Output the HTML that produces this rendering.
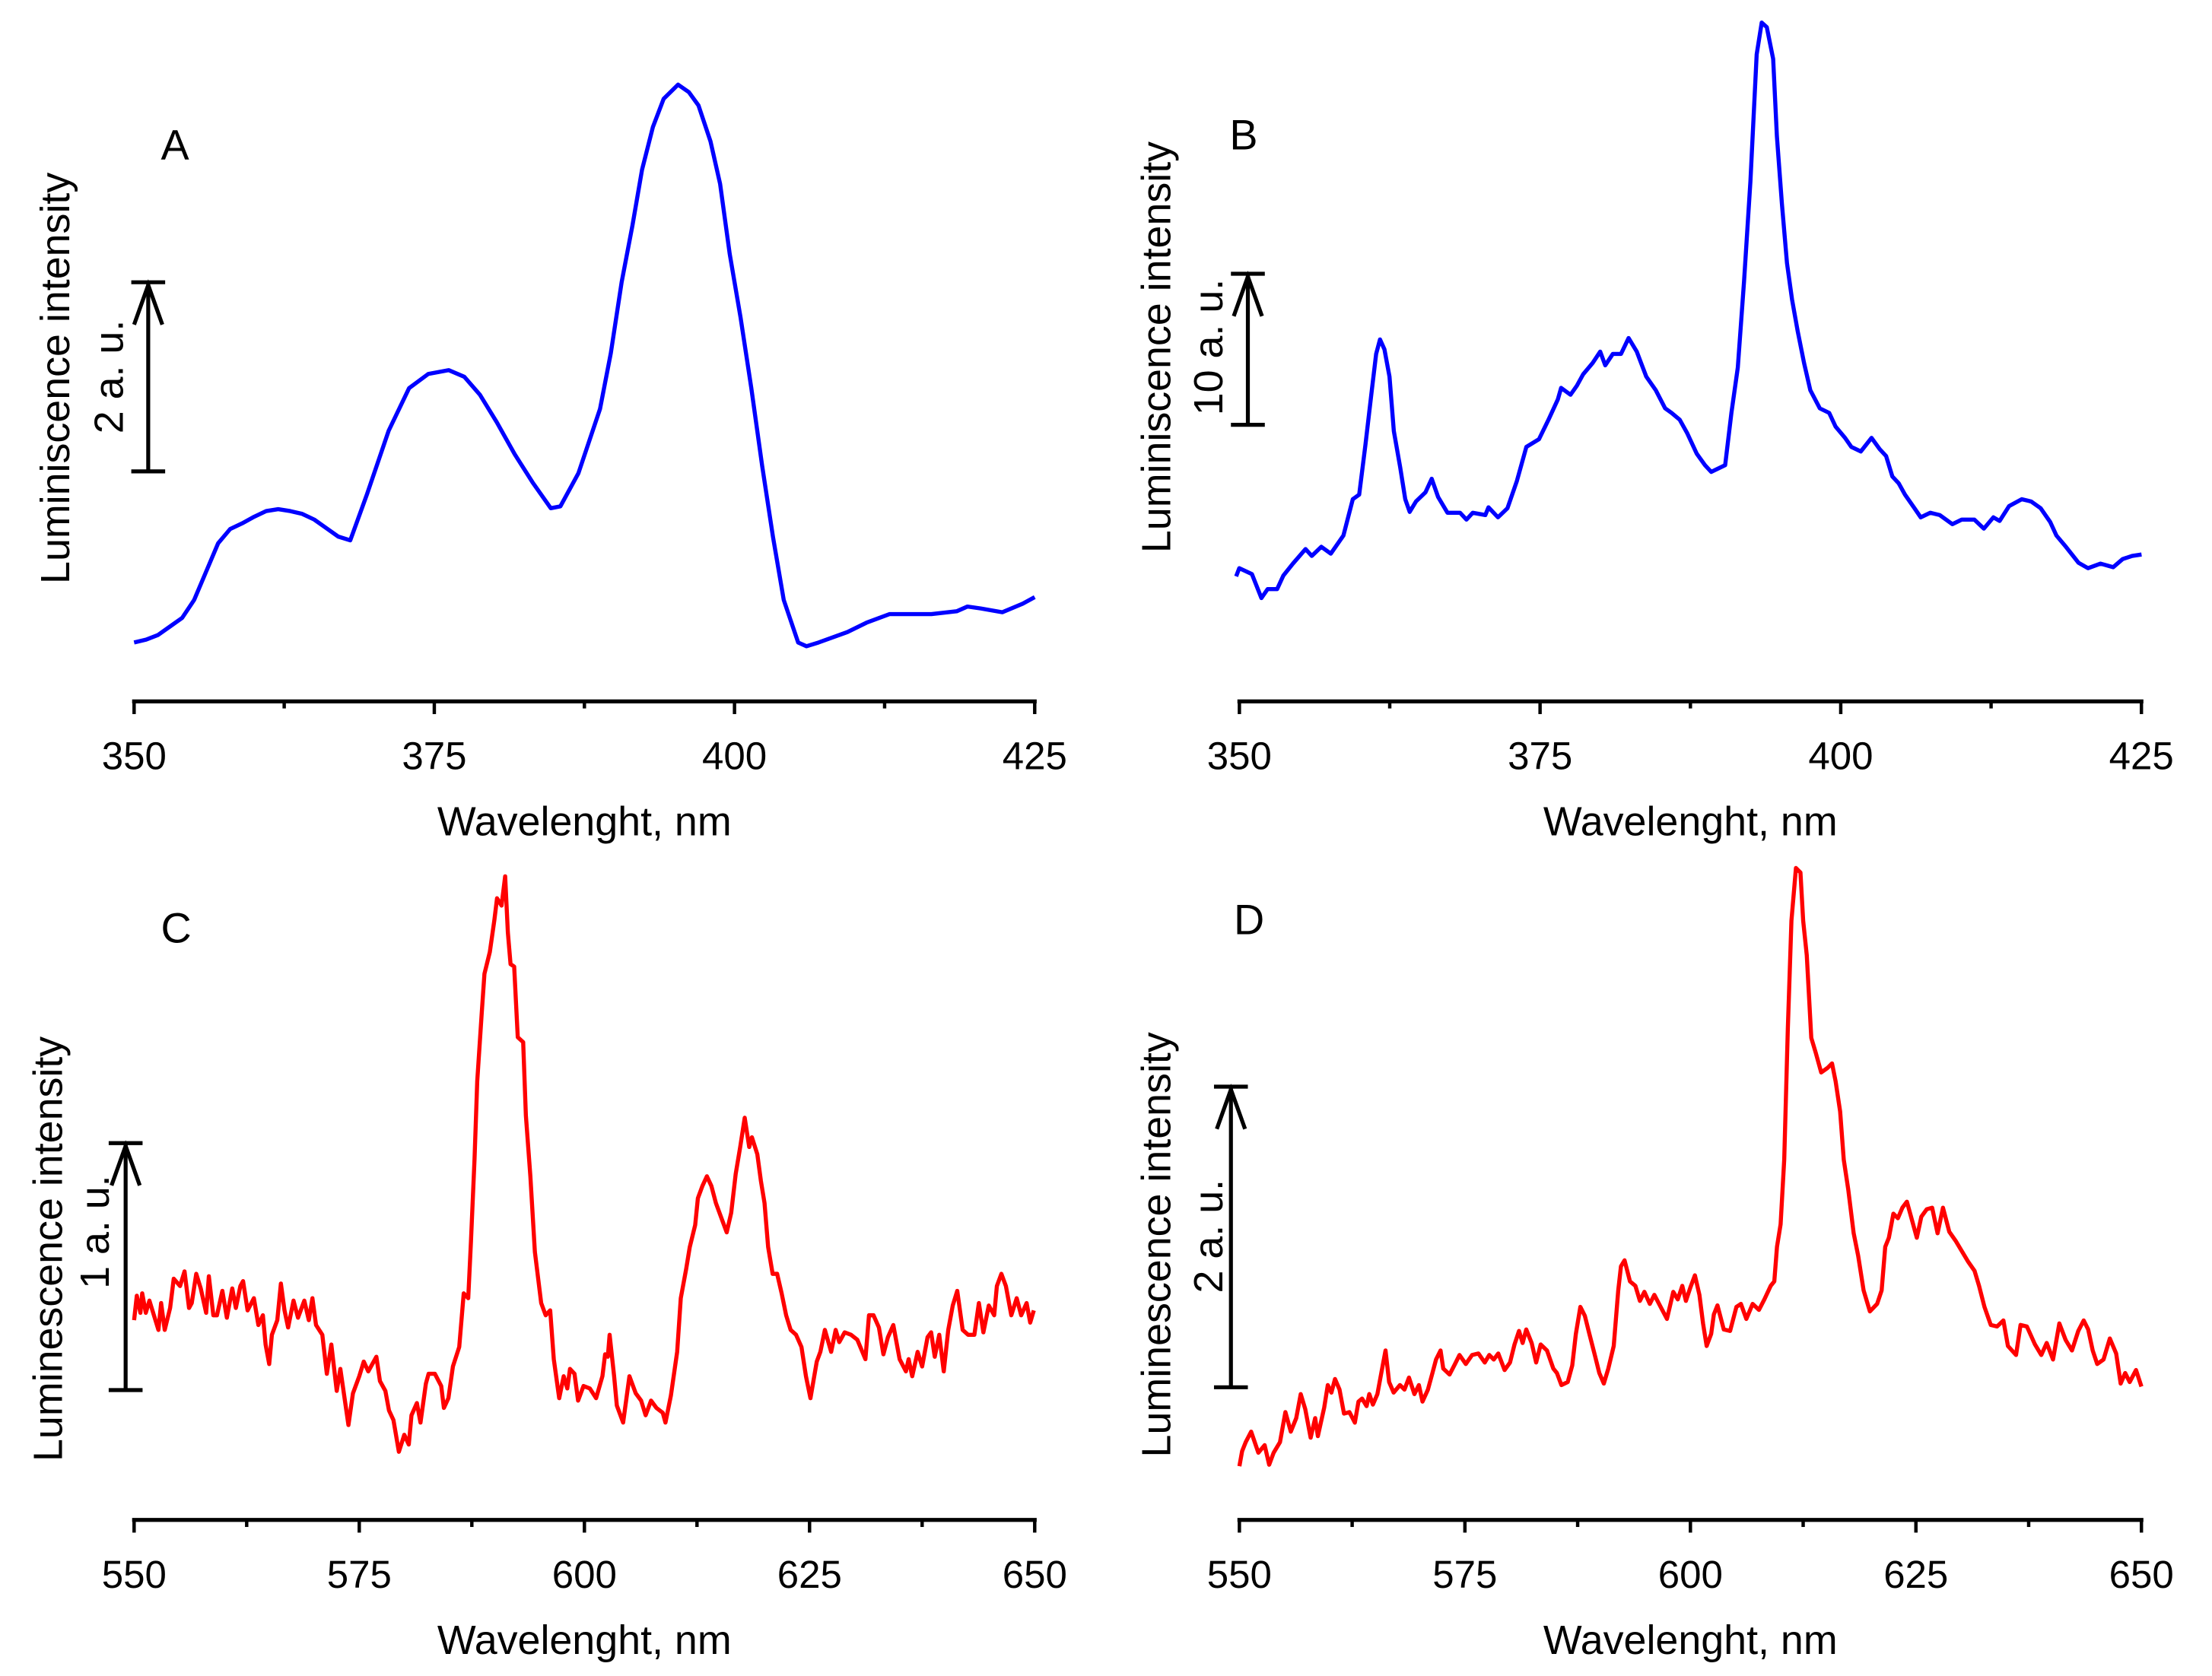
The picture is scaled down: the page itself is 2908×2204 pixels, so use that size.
<!DOCTYPE html>
<html><head><meta charset="utf-8"><style>
html,body{margin:0;padding:0;background:#fff;}
svg{display:block;}
text{font-family:"Liberation Sans",sans-serif;fill:#000;}
</style></head><body>
<svg id="fig" width="2908" height="2204" viewBox="0 0 1567 1187.6" preserveAspectRatio="none" xmlns="http://www.w3.org/2000/svg"></svg>
<script>
// Panel A
const aWave=[350,351,352,353,354,355,356,357,358,359,360,361,362,363,364,365,366,367,368,368.2,369.4,371.2,372.9,374.5,376.2,377.5,378.8,380.2,381.7,383.2,384.7,385.5,387,388.8,389.7,390.6,391.5,392.3,393.2,394.1,395.3,396.2,397,398,398.8,399.6,400.5,401.4,402.3,403.2,404.1,405.3,406,407,409.4,411,412.9,416.4,418.5,419.4,420.5,422.3,424,425];
const aInt=[0.22,0.25,0.30,0.39,0.48,0.67,0.97,1.27,1.42,1.48,1.55,1.61,1.63,1.61,1.58,1.52,1.43,1.34,1.30,1.37,1.79,2.46,2.91,3.06,3.10,3.03,2.84,2.55,2.21,1.91,1.64,1.66,2.01,2.69,3.28,4.03,4.63,5.22,5.67,5.97,6.12,6.04,5.90,5.52,5.07,4.33,3.66,2.91,2.09,1.34,0.67,0.22,0.18,0.22,0.33,0.43,0.52,0.52,0.55,0.60,0.58,0.54,0.63,0.70];
// Panel B
const bWave=[349.73,349.99,351.04,351.83,352.35,353.14,353.66,354.45,355.50,356.02,356.81,357.60,358.65,359.43,359.96,360.48,361.01,361.37,361.69,362.06,362.48,362.84,363.37,363.79,364.16,364.68,365.47,365.99,366.52,367.30,368.35,368.88,369.40,370.45,370.71,371.50,372.29,373.07,373.86,374.91,375.70,376.48,376.75,377.53,378.06,378.58,379.37,380.00,380.42,381.05,381.73,382.36,383.04,383.83,384.62,385.40,385.93,386.61,387.24,388.03,388.71,389.23,390.39,390.91,391.44,391.96,392.49,393.01,393.43,393.85,394.38,394.69,395.11,395.53,395.95,396.42,396.95,397.47,398.26,399.04,399.57,400.36,400.88,401.67,402.56,403.24,403.77,404.29,404.82,405.34,406.13,406.65,407.44,408.23,409.28,410.06,411.11,411.90,412.69,413.21,414.00,415.05,415.83,416.62,417.41,417.93,418.72,419.77,420.56,421.60,422.65,423.44,424.23,425.01];
const bInt=[5.43,6.18,5.64,3.43,4.26,4.26,5.51,6.60,7.94,7.31,8.15,7.52,9.19,12.53,12.95,17.54,22.56,25.90,27.23,26.32,23.81,18.80,15.46,12.53,11.36,12.32,13.16,14.41,12.74,11.28,11.28,10.65,11.28,11.07,11.78,10.86,11.70,14.20,17.34,18.05,19.84,21.72,22.77,22.14,22.97,24.02,25.06,26.11,24.85,25.90,25.90,27.36,26.11,23.81,22.56,20.89,20.47,19.84,18.59,16.71,15.66,15.04,15.66,20.47,24.64,32.58,41.77,53.47,56.39,55.97,53.05,45.95,39.68,34.25,30.91,27.99,25.06,22.56,20.89,20.47,19.21,18.17,17.34,16.92,18.17,17.13,16.50,14.62,13.99,12.95,11.70,10.86,11.28,11.07,10.23,10.65,10.65,9.82,10.86,10.53,11.90,12.53,12.32,11.70,10.44,9.19,8.15,6.68,6.18,6.60,6.27,7.02,7.31,7.44];
// Panel C
const cWave=[550.0,550.3,550.7,550.9,551.3,551.7,552.2,552.7,553.0,553.4,554.0,554.4,555.1,555.6,556.1,556.4,556.9,557.4,558.0,558.3,558.8,559.2,559.8,560.3,560.9,561.3,561.8,562.1,562.6,563.3,563.8,564.3,564.6,565.0,565.3,565.9,566.3,566.7,567.1,567.7,568.2,568.9,569.4,569.8,570.2,570.9,571.4,571.9,572.5,572.9,573.8,574.3,575.0,575.5,576.0,576.9,577.3,577.9,578.3,578.8,579.4,580.0,580.5,580.8,581.4,581.8,582.4,582.7,583.4,584.1,584.4,584.9,585.4,586.1,586.6,587.1,587.4,587.8,588.1,588.6,588.9,589.5,590.0,590.3,590.8,591.2,591.5,591.8,592.2,592.6,593.2,593.5,594.0,594.5,595.2,595.7,596.2,596.6,597.2,597.7,598.1,598.4,598.9,599.3,599.9,600.6,601.3,602.0,602.3,602.6,602.8,603.3,603.6,604.3,605.0,605.7,606.3,606.8,607.4,608.0,608.7,609.0,609.6,610.3,610.7,611.3,611.7,612.3,612.6,613.1,613.6,614.1,614.6,615.1,615.8,616.3,616.8,617.3,617.8,618.3,618.6,619.2,619.6,620.0,620.4,620.9,621.4,621.9,622.4,622.9,623.5,624.1,624.6,625.1,625.8,626.2,626.7,627.4,627.9,628.3,628.9,629.6,630.3,631.2,631.6,632.1,632.7,633.2,633.7,634.3,635.0,635.7,636.0,636.4,637.0,637.5,638.1,638.5,638.9,639.4,639.9,640.4,640.9,641.4,642.0,642.6,643.3,643.8,644.3,644.9,645.5,645.8,646.3,646.8,647.4,648.0,648.5,649.1,649.5,649.9];
const cInt=[0.59,0.69,0.62,0.70,0.62,0.67,0.61,0.55,0.66,0.55,0.64,0.76,0.73,0.79,0.64,0.66,0.78,0.72,0.62,0.77,0.61,0.61,0.71,0.60,0.72,0.64,0.73,0.75,0.63,0.68,0.57,0.61,0.49,0.41,0.53,0.59,0.74,0.63,0.56,0.67,0.60,0.67,0.59,0.68,0.57,0.53,0.37,0.49,0.30,0.39,0.16,0.29,0.36,0.42,0.38,0.44,0.34,0.30,0.22,0.18,0.05,0.12,0.08,0.20,0.25,0.17,0.33,0.37,0.37,0.32,0.23,0.27,0.40,0.48,0.70,0.68,0.91,1.25,1.57,1.85,2.01,2.10,2.23,2.32,2.29,2.41,2.18,2.05,2.04,1.75,1.73,1.43,1.18,0.87,0.66,0.61,0.63,0.43,0.27,0.36,0.31,0.39,0.37,0.26,0.32,0.31,0.27,0.36,0.45,0.44,0.53,0.36,0.24,0.17,0.36,0.29,0.26,0.20,0.26,0.23,0.21,0.17,0.28,0.46,0.68,0.80,0.89,0.98,1.09,1.14,1.18,1.14,1.07,1.02,0.95,1.03,1.19,1.30,1.42,1.30,1.34,1.27,1.16,1.07,0.89,0.78,0.78,0.70,0.61,0.55,0.53,0.48,0.36,0.27,0.42,0.46,0.55,0.46,0.55,0.50,0.54,0.53,0.51,0.43,0.61,0.61,0.56,0.45,0.52,0.57,0.43,0.38,0.43,0.36,0.46,0.40,0.52,0.54,0.44,0.53,0.38,0.55,0.65,0.71,0.55,0.53,0.53,0.66,0.54,0.65,0.61,0.73,0.78,0.73,0.61,0.68,0.61,0.66,0.58,0.63];
// Panel D
const dWave=[550.0,550.3,550.7,551.3,551.7,552.1,552.8,553.3,553.8,554.5,555.1,555.7,556.3,556.8,557.3,557.9,558.4,558.7,559.4,559.8,560.2,560.6,561.1,561.6,562.2,562.8,563.2,563.6,564.1,564.4,564.8,565.3,565.7,566.2,566.6,567.1,567.8,568.3,568.8,569.4,569.9,570.3,570.9,571.4,571.8,572.3,572.6,573.3,573.9,574.4,575.1,575.8,576.5,577.2,577.7,578.2,578.7,579.4,580.0,580.5,581.0,581.4,581.8,582.4,582.9,583.4,584.1,584.8,585.2,585.7,586.4,586.9,587.3,587.8,588.3,588.8,589.4,589.9,590.4,590.9,591.5,592.0,592.3,592.7,593.3,593.9,594.4,594.9,595.5,596.0,596.7,597.4,598.1,598.6,599.1,599.5,600.0,600.5,601.0,601.4,601.8,602.3,602.6,603.0,603.7,604.4,605.1,605.6,606.2,606.9,607.6,608.2,608.9,609.3,609.6,610.0,610.4,610.8,611.2,611.7,612.2,612.5,612.9,613.4,613.9,614.5,615.2,615.7,616.1,616.6,617.0,617.5,618.1,618.6,619.2,619.9,620.7,621.2,621.6,622.0,622.5,623.0,623.5,624.0,624.6,625.1,625.6,626.2,626.8,627.4,628.0,628.7,629.4,630.1,630.8,631.5,632.0,632.6,633.3,634.0,634.7,635.2,636.1,636.6,637.3,638.2,638.9,639.5,640.2,640.9,641.6,642.3,643.0,643.6,644.1,644.6,645.1,645.8,646.5,647.2,647.7,648.2,648.7,649.4,650.0];
const dInt=[0.13,0.23,0.29,0.36,0.29,0.22,0.27,0.14,0.22,0.29,0.49,0.36,0.45,0.61,0.51,0.32,0.45,0.33,0.52,0.67,0.62,0.71,0.64,0.48,0.49,0.42,0.56,0.58,0.53,0.61,0.54,0.61,0.74,0.90,0.69,0.62,0.67,0.64,0.72,0.61,0.67,0.56,0.64,0.75,0.84,0.90,0.78,0.74,0.81,0.87,0.81,0.87,0.88,0.82,0.87,0.84,0.88,0.77,0.82,0.94,1.03,0.95,1.04,0.95,0.82,0.94,0.90,0.78,0.75,0.67,0.69,0.80,1.01,1.19,1.13,1.01,0.87,0.75,0.68,0.78,0.93,1.30,1.46,1.50,1.36,1.33,1.23,1.29,1.21,1.27,1.19,1.11,1.29,1.24,1.33,1.23,1.32,1.40,1.27,1.08,0.93,1.01,1.14,1.20,1.04,1.03,1.19,1.21,1.11,1.21,1.17,1.24,1.33,1.36,1.59,1.74,2.17,3.04,3.76,4.11,4.08,3.76,3.53,2.98,2.88,2.75,2.78,2.81,2.69,2.49,2.17,1.97,1.68,1.53,1.30,1.16,1.21,1.30,1.59,1.65,1.81,1.78,1.85,1.89,1.76,1.65,1.79,1.84,1.85,1.68,1.85,1.69,1.63,1.56,1.49,1.43,1.33,1.19,1.07,1.06,1.10,0.93,0.87,1.07,1.06,0.94,0.87,0.95,0.84,1.08,0.97,0.90,1.03,1.10,1.04,0.90,0.81,0.84,0.98,0.88,0.68,0.75,0.69,0.77,0.66];
const xTicksA=["350","375","400","425"];
const xTicksC=["550","575","600","625","650"];

const NS="http://www.w3.org/2000/svg";
const svg=document.getElementById('fig');
function mk(tag,attrs,parent){const e=document.createElementNS(NS,tag);for(const k in attrs)e.setAttribute(k,attrs[k]);(parent||svg).appendChild(e);return e;}

const panels=[
 {id:'a',letter:'A',lx:114,ly:113,x0:95,x1:733,axisY:497,wmin:350,wmax:425,ticks:xTicksA,minor:12.5,
  y0:470,ppu:67,wave:aWave,inten:aInt,color:'#0000ff',
  bar:{x:105,top:200,bot:334},barLabel:'2 a. u.',barLx:76,barLy:267,ytitle:'Luminiscence intensity',ytx:38,yty:268},
 {id:'b',letter:'B',lx:871,ly:106,x0:878,x1:1517,axisY:497,wmin:350,wmax:425,ticks:xTicksA,minor:12.5,
  y0:450.2,ppu:7.70,wave:bWave,inten:bInt,color:'#0000ff',
  bar:{x:884,top:194,bot:301},barLabel:'10 a. u.',barLx:855,barLy:246,ytitle:'Luminiscence intensity',ytx:818,yty:246},
 {id:'c',letter:'C',lx:114,ly:668,x0:95,x1:733,axisY:1077,wmin:550,wmax:650,ticks:xTicksC,minor:12.5,
  y0:1037.4,ppu:172.8,wave:cWave,inten:cInt,color:'#ff0000',
  bar:{x:89,top:810,bot:985},barLabel:'1 a. u.',barLx:66,barLy:873,ytitle:'Luminescence intensity',ytx:33,yty:885},
 {id:'d',letter:'D',lx:874,ly:662,x0:878,x1:1517,axisY:1077,wmin:550,wmax:650,ticks:xTicksC,minor:12.5,
  y0:1052.8,ppu:106.5,wave:dWave,inten:dInt,color:'#ff0000',
  bar:{x:872,top:770,bot:983},barLabel:'2 a. u.',barLx:855,barLy:876,ytitle:'Luminescence intensity',ytx:818,yty:882}
];

panels.forEach(p=>{
  const g=mk('g',{});
  
  
  const xs=w=>p.x0+(w-p.wmin)*(p.x1-p.x0)/(p.wmax-p.wmin);
  const ys=v=>p.y0-v*p.ppu;
  let d='';
  for(let i=0;i<p.wave.length;i++){d+=(i?'L':'M')+xs(p.wave[i]).toFixed(2)+' '+ys(p.inten[i]).toFixed(2);}
  const path=mk('path',{d:d,fill:'none',stroke:p.color,'stroke-width':2.9,'stroke-linejoin':'round'},g);
  
  
  const ax=mk('line',{x1:p.x0-1.4,x2:p.x1+1.4,y1:p.axisY,y2:p.axisY,stroke:'#000','stroke-width':2.8},g);
  
  
  for(let w=p.wmin;w<=p.wmax+0.01;w+=p.minor){
    const major=Math.abs(((w-p.wmin)/25)-Math.round((w-p.wmin)/25))<0.01;
    const t=mk('line',{x1:xs(w),x2:xs(w),y1:p.axisY,y2:p.axisY+(major?9:5),stroke:'#000','stroke-width':2.4},g);
    
    
  }
  p.ticks.forEach(s=>{
    const tl=mk('text',{x:xs(parseFloat(s)),y:p.axisY+48,'text-anchor':'middle','font-size':27.5},g);
    tl.textContent=s;
    
    
  });
  const xt=mk('text',{x:(p.x0+p.x1)/2,y:p.axisY+95,'text-anchor':'middle','font-size':29},g);
  xt.textContent='Wavelenght, nm';
  
  
  const pl=mk('text',{x:p.lx,y:p.ly,'font-size':30},g);
  pl.textContent=p.letter;
  
  
  const yt=mk('text',{x:0,y:0,'text-anchor':'middle','font-size':29,transform:'translate('+(p.ytx+11)+','+p.yty+') rotate(-90)'},g);
  yt.textContent=p.ytitle;
  
  
  const sb=mk('g',{stroke:'#000','stroke-width':2.8,fill:'none'},g);
  
  
  mk('line',{x1:p.bar.x,x2:p.bar.x,y1:p.bar.top,y2:p.bar.bot},sb);
  mk('line',{x1:p.bar.x-12,x2:p.bar.x+12,y1:p.bar.top,y2:p.bar.top},sb);
  mk('line',{x1:p.bar.x-12,x2:p.bar.x+12,y1:p.bar.bot,y2:p.bar.bot},sb);
  mk('polyline',{points:(p.bar.x-10)+','+(p.bar.top+30)+' '+p.bar.x+','+(p.bar.top+2)+' '+(p.bar.x+10)+','+(p.bar.top+30)},sb);
  const bl=mk('text',{x:0,y:0,'text-anchor':'middle','font-size':29,transform:'translate('+(p.barLx+11)+','+p.barLy+') rotate(-90)'},g);
  bl.textContent=p.barLabel;
  
  
});
</script>
</body></html>
